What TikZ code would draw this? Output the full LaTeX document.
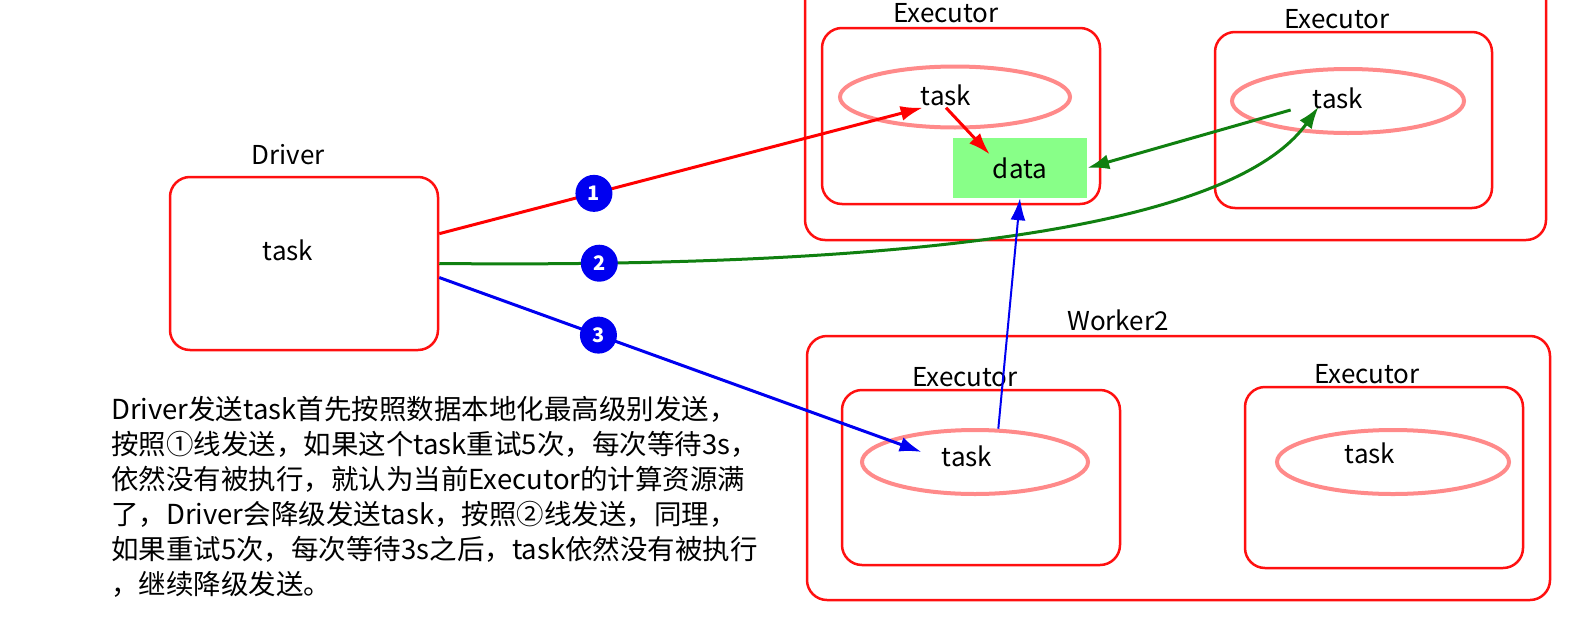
\documentclass[tikz,border=0pt]{standalone}
\usepackage{fontspec}
\setmainfont{Noto Sans CJK SC}
\usetikzlibrary{shapes.geometric,arrows.meta,calc}

\definecolor{boxred}{HTML}{FF1010}
\definecolor{taskpink}{HTML}{FF8A8A}
\definecolor{datagreen}{HTML}{88FF88}
\definecolor{linegreen}{HTML}{108010}
\definecolor{lineblue}{HTML}{0000F0}

\tikzset{
  box/.style={draw=boxred, line width=2.5pt, rounded corners=20pt, inner sep=0pt},
  oval/.style={ellipse, draw=taskpink, line width=4pt, inner sep=0pt},
  tsk/.style={inner sep=2pt},
  num/.style={circle, fill=lineblue, text=white, inner sep=0pt, minimum size=37pt,
    font=\fontsize{20}{20}\selectfont\bfseries},
  redline/.style={draw=red, line width=3pt, ->},
  grnline/.style={draw=linegreen, line width=3pt, ->},
  bluline/.style={draw=lineblue, line width=3pt, ->}
}

\begin{document}
\begin{tikzpicture}[x=1pt,y=-1pt,>={Latex[length=22pt,width=15pt]},font=\fontsize{26}{35}\selectfont]
  \useasboundingbox (0,0) rectangle (1584,616);
  \clip (0,0) rectangle (1584,616);

  % driver
  \node [box, minimum width=268pt, minimum height=173pt] (drv) at (304,263.5) {};
  \node (ldrv) at (288,155) {Driver};
  \node [tsk] (tdrv) at (288,250) {task};

  % worker 1
  \node [box, minimum width=741pt, minimum height=280pt] (w1) at (1175.5,100) {};
  \node [box, minimum width=278pt, minimum height=176pt] (e11) at (961,116) {};
  \node (le11) at (946,13) {Executor};
  \node [oval, minimum width=230pt, minimum height=61pt] (o11) at (955,97) {};
  \node [tsk] (t11) at (946,95) {task};
  \node [fill=datagreen, minimum width=134pt, minimum height=60pt] (dat) at (1020,168) {data};

  \node [box, minimum width=277pt, minimum height=176pt] (e12) at (1353.5,120) {};
  \node (le12) at (1337,19) {Executor};
  \node [oval, minimum width=232pt, minimum height=64pt] (o12) at (1348,101) {};
  \node [tsk] (t12) at (1338,98) {task};

  % worker 2
  \node [box, minimum width=743pt, minimum height=264pt] (w2) at (1178.5,468) {};
  \node (lw2) at (1118,320) {Worker2};
  \node [box, minimum width=278pt, minimum height=175pt] (e21) at (981,477.5) {};
  \node (le21) at (965,377) {Executor};
  \node [oval, minimum width=226pt, minimum height=64pt] (o21) at (975,462) {};
  \node [tsk] (t21) at (967,456) {task};

  \node [box, minimum width=278pt, minimum height=181pt] (e22) at (1384,477.5) {};
  \node (le22) at (1367,374) {Executor};
  \node [oval, minimum width=232pt, minimum height=64pt] (o22) at (1393,462) {};
  \node [tsk] (t22) at (1370,453) {task};

  % lines 1, 2, 3
  \path [redline] ($(drv.north east)!0.33!(drv.south east)$) -- node [num, pos=0.32] (n1) {1} ($(t11.south west)+(4,0)$);
  \path [redline] (t11.south) -- ($(dat.north west)!0.55!(dat.center)$);
  \path [grnline] (drv.east) .. controls (900,268) and (1230,230) .. node [num, pos=0.12] (n2) {2} ($(t12.south west)+(8,-4)$);
  \path [grnline] ($(t12.west)+(-20,12)$) -- (dat.east);
  \path [bluline] ($(drv.north east)!0.58!(drv.south east)$) -- node [num, pos=0.33] (n3) {3} ($(t21.west)+(-18,-4)$);
  \path [bluline, line width=2pt] (o21.55) -- (dat.south);

  % note
  \node [anchor=north west, align=left, inner sep=0pt,
    font=\fontsize{27.5}{35}\selectfont] (note) at (111,396)
    {Driver发送task首先按照数据本地化最高级别发送，\\
     按照①线发送，如果这个task重试5次，每次等待3s，\\
     依然没有被执行，就认为当前Executor的计算资源满\\
     了，Driver会降级发送task，按照②线发送，同理，\\
     如果重试5次，每次等待3s之后，task依然没有被执行\\
     ，继续降级发送。};
\end{tikzpicture}
\end{document}
